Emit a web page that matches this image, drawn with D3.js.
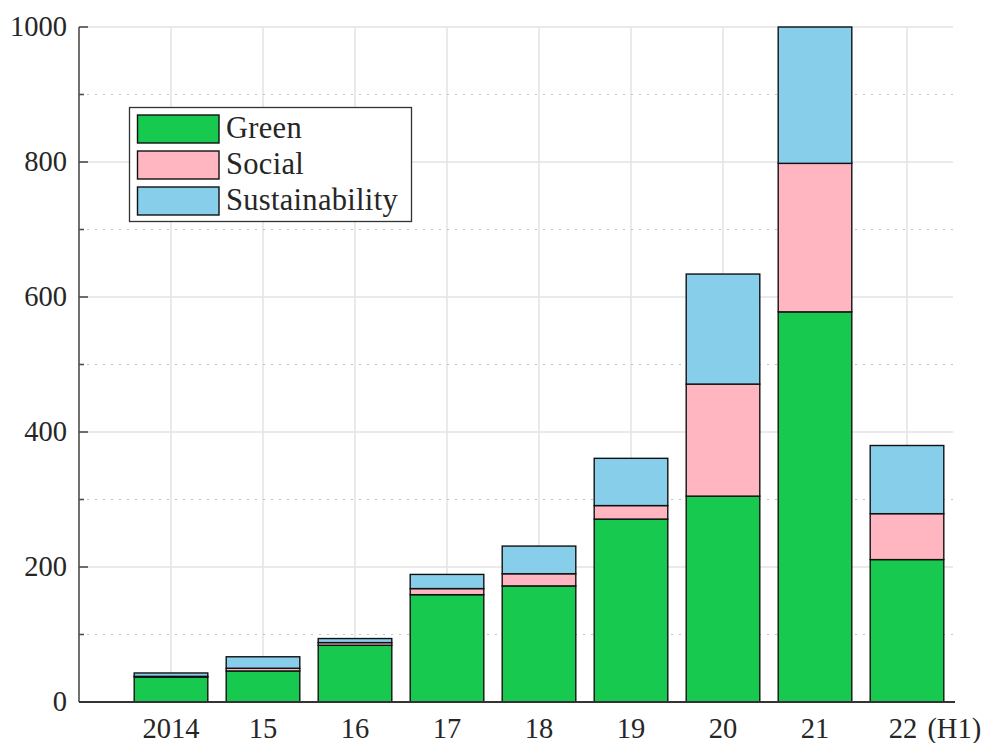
<!DOCTYPE html>
<html>
<head>
<meta charset="utf-8">
<script src="https://cdn.jsdelivr.net/npm/d3@7"></script>
<style>
  html, body { margin: 0; padding: 0; background: #fff; }
  svg { display: block; }
  text { font-family: "Liberation Serif", "Times New Roman", serif; fill: #262626; }
</style>
</head>
<body>
<svg id="chart" width="987" height="743"></svg>
<script>
const categories = ["2014", "15", "16", "17", "18", "19", "20", "21", "22 (H1)"];
const green = [37, 46, 84, 159, 172, 271, 305, 578, 211];
const social = [1, 4, 4, 9, 18, 20, 166, 220, 68];
const sustainability = [5, 17, 6, 21, 41, 70, 163, 202, 101];
const seriesNames = ["Green", "Social", "Sustainability"];
const seriesColors = ["#17c94f", "#ffb6c1", "#87ceeb"];
const yMajorTicks = [0, 200, 400, 600, 800, 1000];
const yMinorTicks = [100, 300, 500, 700, 900];

const svg = d3.select("#chart");
const x = d3.scaleLinear().domain([0, 9.5]).range([79, 953]);
const y = d3.scaleLinear().domain([0, 1000]).range([702, 27]);
const barW = x(0.8) - x(0);

const rows = categories.map((c, i) => ({
  cat: c, idx: i + 1, Green: green[i], Social: social[i], Sustainability: sustainability[i]
}));
const stacked = d3.stack().keys(seriesNames)(rows);

// grid
const grid = svg.append("g");
grid.selectAll("line.vg").data(rows).join("line")
  .attr("x1", d => x(d.idx)).attr("x2", d => x(d.idx))
  .attr("y1", y(1000)).attr("y2", y(0))
  .attr("stroke", "#e3e3e3").attr("stroke-width", 1.5);
grid.selectAll("line.hg").data(yMajorTicks.filter(v => v > 0)).join("line")
  .attr("x1", x(0)).attr("x2", x(9.5))
  .attr("y1", d => y(d)).attr("y2", d => y(d))
  .attr("stroke", "#e3e3e3").attr("stroke-width", 1.5);
svg.append("g").selectAll("line").data(yMinorTicks).join("line")
  .attr("x1", x(0)).attr("x2", x(9.5))
  .attr("y1", d => y(d)).attr("y2", d => y(d))
  .attr("stroke", "#c4c4c4").attr("stroke-width", 1.2)
  .attr("stroke-dasharray", "2,6");

// bars
svg.append("g").selectAll("g").data(stacked).join("g")
  .attr("fill", (d, i) => seriesColors[i])
  .selectAll("rect").data(d => d).join("rect")
  .attr("x", d => x(d.data.idx) - barW / 2)
  .attr("width", barW)
  .attr("y", d => y(d[1]))
  .attr("height", d => y(d[0]) - y(d[1]))
  .attr("stroke", "#111").attr("stroke-width", 1.4);

// y axis
const yAxis = svg.append("g");
yAxis.append("line").attr("x1", x(0)).attr("x2", x(0)).attr("y1", y(1000)).attr("y2", y(0))
  .attr("stroke", "#4d4d4d").attr("stroke-width", 1.6);
yAxis.selectAll("line.maj").data(yMajorTicks).join("line")
  .attr("x1", x(0)).attr("x2", x(0) + 9)
  .attr("y1", d => y(d)).attr("y2", d => y(d))
  .attr("stroke", "#4d4d4d").attr("stroke-width", 1.6);
yAxis.selectAll("line.min").data(yMinorTicks).join("line")
  .attr("class", "min")
  .attr("x1", x(0)).attr("x2", x(0) + 5)
  .attr("y1", d => y(d)).attr("y2", d => y(d))
  .attr("stroke", "#4d4d4d").attr("stroke-width", 1.6);
yAxis.selectAll("text").data(yMajorTicks).join("text")
  .attr("x", 67).attr("y", d => y(d) - 1)
  .attr("text-anchor", "end").attr("dominant-baseline", "central")
  .attr("font-size", 28.5).text(d => d);

// x axis
svg.append("line").attr("x1", x(0)).attr("x2", x(9.5) + 2).attr("y1", y(0)).attr("y2", y(0))
  .attr("stroke", "#333").attr("stroke-width", 2);
const xl = svg.append("g").selectAll("text").data(rows).join("text")
  .attr("y", 738).attr("font-size", 28.5).attr("text-anchor", "start");
xl.each(function(d) {
  const t = d3.select(this);
  const parts = d.cat.split(" ");
  t.text(parts[0]);
  const w0 = this.getComputedTextLength();
  t.attr("x", x(d.idx) - w0 / 2 - (parts.length > 1 ? 4 : 0));
  if (parts.length > 1) t.text(d.cat).attr("word-spacing", 3);
});

// legend
const lg = svg.append("g");
lg.append("rect").attr("x", 129.5).attr("y", 107.5).attr("width", 282).attr("height", 114)
  .attr("fill", "#fff").attr("stroke", "#333").attr("stroke-width", 1.3);
const items = lg.selectAll("g").data(seriesNames).join("g")
  .attr("transform", (d, i) => `translate(0, ${i * 36})`);
items.append("rect").attr("x", 137.5).attr("y", 115).attr("width", 81.5).attr("height", 28)
  .attr("fill", (d, i) => seriesColors[i]).attr("stroke", "#111").attr("stroke-width", 1.4);
items.append("text").attr("x", 226).attr("y", 137.5).attr("font-size", 30.5)
  .attr("letter-spacing", 0.3).text(d => d);
</script>
</body>
</html>
